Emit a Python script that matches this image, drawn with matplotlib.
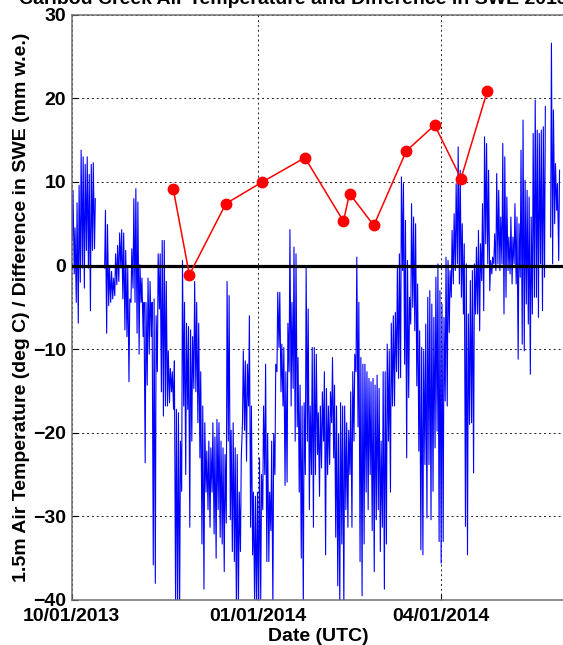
import numpy as np
import pandas as pd
import matplotlib
matplotlib.use('Agg')
import matplotlib.pyplot as plt

plt.rcParams['font.family'] = ['Liberation Sans', 'DejaVu Sans']
plt.rcParams['font.weight'] = 'bold'

# daily max / min air temperature (deg C), starting 2013-10-01, NaN = no data
start = '2013-10-01'
tmax = [9, 4.5, 7.5, 9.6, 13.8, 13, 12.1, 13, 10.9, 12.1,
        12.3, 8, np.nan, np.nan, np.nan, np.nan, 6.6, 4.9, -0.3, -0.7,
        -1.5, 1.4, 2.4, 3.9, 4.3, 3.9, 1.8, -0.3, -4, 2,
        8, 9.2, 7.6, 0.1, -1.5, -4.4, -4.4, -1.5, -1.9, -4.4,
        -4, -6, 1.4, 1.4, 3, 3, -1.9, -10.2, -12.3, -12.7,
        -11.4, -17.2, -17.6, -21, 0.6, -4.4, -6.9, -7.3, -7.7, -8.5,
        -1.9, -4.4, -6.9, -12.7, -16.8, -18.8, -22.2, -21, -21.8, -18.8,
        -20.5, -18.4, -18.8, -21, -21.8, -22.6, -1.9, -3.6, -19.7, -18.8,
        -21.8, -22.6, -27.1, -23, -10.2, -11.4, -11.8, -6, -16.8, -27.1,
        -27.6, -27.1, -23, -25, -16.8, -11.8, -20.1, -27.1, -21, -20.1,
        -11.8, -3.2, -3.2, -9.4, -9.8, -12.7, -6.9, 4.3, -4.4, 2.2,
        1.4, -11, -14.3, -16.8, -16.4, -0.3, -5.2, -16.8, -9.8, -9.8,
        -10.6, -17.6, -16.8, -15.1, -12.7, -14.7, -16.8, -15.1, -11, -14.3,
        -16.8, -20.1, -16.4, -16.8, -16.8, -18.8, -19.7, -15.1, -12.7, -10.6,
        1, -4.4, -11, -11.8, -11.8, -12.7, -13.5, -13.9, -13.5, -14.3,
        -13.1, -14.7, -21, -12.7, -12.7, -9.4, -10.2, -6.9, -6, -5.6,
        -0.3, 1.4, 10.6, 9.8, 5.4, 0.6, -3.8, 7.4, 5.8, 5,
        -2.2, -7.8, -9.8, -10.2, -7, -3.8, -3, -4.6, -6.2, -1.4,
        0.2, -3, -4.6, -6.2, 1, 0.6, -0.6, 4.2, 6.2, 9.8,
        14.2, 11.4, 5, 2.6, 0.2, -5.8, -1.8, -0.6, 0.2, 2.2,
        4.2, 2.6, 7.4, 15.4, 14.6, 11.4, 0.6, 1, 3.8, 11,
        9, 5.8, 14.6, 13, 8.2, 3.4, 5.8, 3.4, 7.4, 5.8,
        5, 13.8, 17.4, 10.2, 9, 8.2, 5.8, 15.8, 19.8, 16.2,
        15.8, 16.2, 16.6, 19, np.nan, np.nan, 26.6, 18.6, 12.2, 9.8,
        11.4]
tmin = [3, -1, -4.4, -6.9, -2, -0.3, -2.7, 1.8, -0.3, -5.4,
        1.8, 2, np.nan, np.nan, np.nan, np.nan, -0.3, -8.1, -4.8, -4.4,
        -4, -3.6, -2.3, -1.9, -0.3, -4, -7.7, -8.5, -13.9, -4.4,
        -2.7, -4.4, -8.1, -10.6, -4.4, -8.5, -23.6, -14.3, -10.6, -8.5,
        -35.8, -38, -12.7, -5.2, -15.1, -18, -16.8, -16.8, -16.4, -15.1,
        -17.2, -41, -42, -41, -27, -16.8, -25, -17.2, -31.3, -21,
        -14.7, -15.1, -18.8, -23, -33.3, -38.7, -27.1, -29.2, -31.3, -27.1,
        -32.1, -35, -29.2, -32.5, -33.3, -36.6, -30.8, -21, -30.4, -34.2,
        -35.4, -41, -41, -34.2, -18.8, -19.7, -23.4, -16.8, -31.3, -34.6,
        -41, -41, -41, -40, -29.2, -25, -35.4, -35.4, -31.7, -41,
        -25, -12.7, -9.8, -15.1, -16.8, -26.3, -25.9, -12.7, -16.8, -14.7,
        -21, -19.3, -27.1, -35, -41, -25, -21, -29.2, -25, -31.3,
        -25, -22.6, -27.6, -24.2, -21, -34.6, -25, -23.8, -18.8, -23,
        -32.5, -38.3, -41, -33.3, -41, -29.2, -31.3, -25, -31.3, -21,
        -12.7, -19.3, -35.4, -39.5, -33.3, -27.1, -29.2, -25, -31.7, -36.6,
        -30.4, -29.2, -34.2, -31.3, -38.7, -33.3, -21, -27.1, -16.8, -16.8,
        -12.7, -13.5, -13.4, -0.6, -11.8, -23, -15.8, -7, -5, -7.8,
        -14.4, -22.2, -34, -34.6, -23.8, -30.2, -23.8, -30.4, -27, -21.8,
        -19.8, -33, -35.6, -33, -16.2, -16.8, -8, -3.8, -2.2, -0.6,
        0.2, -2.2, -3.8, -5.8, -31.2, -34.6, -19, -18.8, -24.8, -5.8,
        -5.8, -7.8, -1.8, -5.4, 2.6, 0.2, -3, -1, 0.2, -0.6,
        0.2, -0.6, 0.2, -5.8, -3.8, -0.6, -1, -2.2, 0.2, -2.2,
        -11.2, -1.4, -9.4, -10.2, -4.6, -7, -13, -5.8, -3.8, -3.8,
        -6.2, 0.2, -5.4, -1.4, np.nan, np.nan, 3.4, 0.2, 5, 6.6,
        0.6]

# difference in SWE (mm w.e.)
swe_dates = ['2013-11-20', '2013-11-28', '2013-12-16', '2014-01-03', '2014-01-24',
             '2014-02-12', '2014-02-15', '2014-02-27', '2014-03-15', '2014-03-29',
             '2014-04-11', '2014-04-24']
swe_diff = [9.2, -1.1, 7.4, 10.0, 12.9, 5.3, 8.6, 4.8, 13.7, 16.8, 10.4, 20.9]

tick_dates = ['2013-10-01', '2014-01-01', '2014-04-01']
tick_labels = ['10/01/2013', '01/01/2014', '04/01/2014']

# build a zig-zag series: min in the early morning, max in the afternoon
n = len(tmax)
t0 = pd.Timestamp(start)
days = np.arange(n)
t_lo = t0 + pd.to_timedelta(days + 0.2, unit='D')
t_hi = t0 + pd.to_timedelta(days + 0.6, unit='D')
times = np.empty(2 * n, dtype='datetime64[ns]')
times[0::2] = t_lo.values
times[1::2] = t_hi.values
temps = np.empty(2 * n)
temps[0::2] = tmin
temps[1::2] = tmax

fig = plt.figure(figsize=(5.63, 6.45), dpi=100)
ax = fig.add_axes([71.8 / 563, 45 / 645, 492.6 / 563, 585.3 / 645])

ax.plot(times, temps, color='#0000ff', lw=0.8, zorder=2)
ax.axhline(0, color='black', lw=2.3, zorder=3)
ax.plot(pd.to_datetime(swe_dates), swe_diff, '-o', color='red', lw=1.1,
        markersize=7.5, zorder=4)

ax.set_xlim(pd.Timestamp('2013-10-01'), pd.Timestamp('2014-06-01'))
ax.set_ylim(-40, 30)
ax.set_yticks(range(-40, 31, 10))
ax.set_xticks(pd.to_datetime(tick_dates))
ax.set_xticklabels(tick_labels)
ax.tick_params(direction='in', length=4, labelsize=14, width=0.8)
ax.tick_params(axis='y', pad=4)
ax.tick_params(axis='x', pad=6)
ax.grid(True, color='#222222', ls=(0, (2, 3)), lw=0.7)
ax.set_axisbelow(True)
for s in ax.spines.values():
    s.set_color('#707070')
    s.set_linewidth(1.1)

ax.set_xlabel('Date (UTC)', fontsize=14, fontweight='bold', labelpad=2)
ax.set_ylabel('1.5m Air Temperature (deg C) / Difference in SWE (mm w.e.)',
              fontsize=14, fontweight='bold')
ax.yaxis.set_label_coords(-0.085, 0.5)
ax.set_title('Caribou Creek Air Temperature and Difference in SWE 2013-2014',
             fontsize=14, fontweight='bold', pad=7.5)

fig.savefig('out.png', dpi=100)
